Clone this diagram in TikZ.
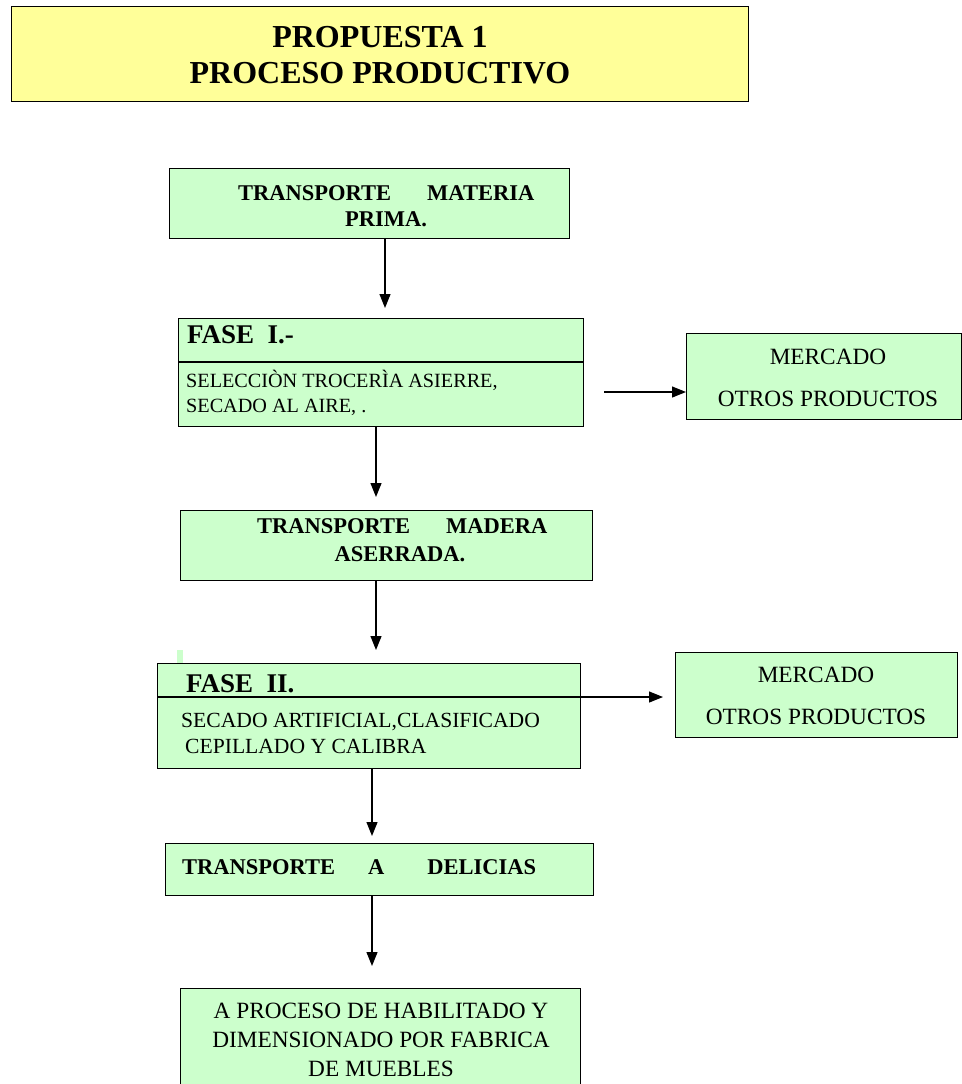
\documentclass[tikz,border=0pt]{standalone}
\usepackage{fontspec}
\setmainfont{Liberation Serif}
\usetikzlibrary{arrows.meta}
\definecolor{boxgreen}{HTML}{CCFFCC}
\definecolor{boxyellow}{HTML}{FFFF99}
\begin{document}
\begin{tikzpicture}[x=1pt,y=-1pt,
  box/.style={draw=black,line width=1.2pt,fill=boxgreen,inner sep=0pt,anchor=north west},
  titlebox/.style={box,fill=boxyellow},
  flow/.style={line width=1.2pt,-{Triangle[length=14pt,width=11pt]}},
  bt/.style={font=\fontsize{22.5}{26}\selectfont\bfseries,inner sep=0pt},
  rt/.style={font=\fontsize{20.2}{24}\selectfont,inner sep=0pt},
  rtm/.style={font=\fontsize{21.6}{25}\selectfont,inner sep=0pt},
  rtl/.style={font=\fontsize{23.3}{27}\selectfont,inner sep=0pt},
  ph/.style={font=\fontsize{27}{31}\selectfont\bfseries,inner sep=0pt},
  tt/.style={font=\fontsize{32}{36}\selectfont\bfseries,inner sep=0pt}]
\useasboundingbox (0,0) rectangle (961,1084);

% title
\node[titlebox,minimum width=737pt,minimum height=95pt] (title) at (11,6) {};
\node[tt,anchor=base] (t1) at (380,47) {PROPUESTA 1};
\node[tt,anchor=base] (t2) at (380,83) {PROCESO PRODUCTIVO};

% transporte materia prima
\node[box,minimum width=400pt,minimum height=70pt] (b1) at (169,168) {};
\node[bt,anchor=base west] (b1a) at (238,200) {TRANSPORTE\hspace{36pt}MATERIA};
\node[bt,anchor=base] (b1b) at (386,226) {PRIMA.};

% fase I
\node[box,minimum width=405pt,minimum height=108pt] (f1) at (178,318) {};
\draw[line width=1.2pt] (178,362) -- (583,362);
\node[ph,anchor=base west] (f1t) at (187,343) {FASE\ \ I.-};
\node[rt,anchor=base west] (f1a) at (186,387) {SELECCIÒN TROCERÌA ASIERRE,};
\node[rt,anchor=base west] (f1b) at (186,412) {SECADO AL AIRE, .};
\coordinate (f1out) at (604,392);

% mercado 1
\node[box,minimum width=275pt,minimum height=86pt] (m1) at (686,333) {};
\node[rtl,anchor=base] (m1a) at (828,364) {MERCADO};
\node[rtl,anchor=base] (m1b) at (828,406) {OTROS PRODUCTOS};

% transporte madera aserrada
\node[box,minimum width=412pt,minimum height=70pt] (b3) at (180,510) {};
\node[bt,anchor=base west] (b3a) at (257,533) {TRANSPORTE\hspace{36pt}MADERA};
\node[bt,anchor=base] (b3b) at (400,561) {ASERRADA.};

% fase II
\fill[boxgreen] (177,650) rectangle (183,663);
\node[box,minimum width=423pt,minimum height=105pt] (f2) at (157,663) {};
\coordinate (f2div) at (580,697);
\draw[line width=1.2pt] (157,697) -- (f2div);
\node[ph,anchor=base west] (f2t) at (186,692) {FASE\ \ II.};
\node[rtm,anchor=base west] (f2a) at (181,727) {SECADO ARTIFICIAL,CLASIFICADO};
\node[rtm,anchor=base west] (f2b) at (185,753) {CEPILLADO Y CALIBRA};

% mercado 2
\node[box,minimum width=282pt,minimum height=85pt] (m2) at (675,652) {};
\node[rtl,anchor=base] (m2a) at (816,682) {MERCADO};
\node[rtl,anchor=base] (m2b) at (816,724) {OTROS PRODUCTOS};

% transporte a delicias
\node[box,minimum width=428pt,minimum height=52pt] (b5) at (165,843) {};
\node[bt,anchor=base west] (b5a) at (182,874) {TRANSPORTE\hspace{33pt}A\hspace{43pt}DELICIAS};

% destino final
\node[box,minimum width=400pt,minimum height=100pt] (b6) at (180,988) {};
\node[rtl,anchor=base] (b6a) at (381,1018) {A PROCESO DE HABILITADO Y};
\node[rtl,anchor=base] (b6b) at (381,1047) {DIMENSIONADO POR FABRICA};
\node[rtl,anchor=base] (b6c) at (381,1076) {DE MUEBLES};

% connectors
\draw[flow,shorten >=10pt] (b1.south -| 385,0) -- (f1.north -| 385,0);
\draw[flow] (f1out) -- (m1.west |- f1out);
\draw[flow,shorten >=13pt] (f1.south -| 376,0) -- (b3.north -| 376,0);
\draw[flow,shorten >=13pt] (b3.south -| 376,0) -- (f2.north -| 376,0);
\draw[flow,shorten >=12pt] (f2div) -- (m2.west |- f2div);
\draw[flow,shorten >=7pt] (f2.south -| 372,0) -- (b5.north -| 372,0);
\draw[flow,shorten >=22pt] (b5.south -| 372,0) -- (b6.north -| 372,0);
\end{tikzpicture}
\end{document}
